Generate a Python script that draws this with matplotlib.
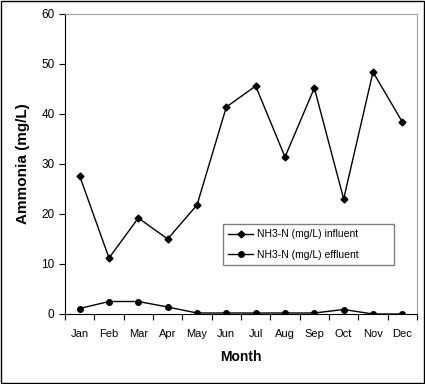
import numpy as np
import matplotlib.pyplot as plt
from matplotlib.patches import Rectangle

months = ['Jan', 'Feb', 'Mar', 'Apr', 'May', 'Jun', 'Jul', 'Aug', 'Sep', 'Oct', 'Nov', 'Dec']
influent = [27.6, 11.2, 19.2, 15.0, 21.8, 41.4, 45.6, 31.4, 45.2, 23.0, 48.4, 38.4]
effluent = [1.1, 2.5, 2.5, 1.4, 0.2, 0.2, 0.2, 0.2, 0.2, 0.9, 0.0, 0.0]

plt.rcParams['font.family'] = ['Liberation Sans', 'DejaVu Sans']

fig = plt.figure(figsize=(4.25, 3.84), dpi=100)
ax = fig.add_axes([65 / 425, 1 - 314 / 384, (417 - 65) / 425, (314 - 14) / 384])

x = np.arange(len(months))
ax.plot(x, influent, color='black', lw=1, marker='D', ms=3.5, label='NH3-N (mg/L) influent')
ax.plot(x, effluent, color='black', lw=1, marker='o', ms=4, label='NH3-N (mg/L) effluent')

ax.set_xlim(-0.5, 11.5)
ax.set_ylim(0, 60)
ax.set_yticks(range(0, 61, 10))
ax.set_xticks(x)
ax.set_xticklabels(months)
ax.set_xticks(np.arange(-0.5, 12, 1), minor=True)
ax.tick_params(axis='x', which='major', length=0, labelsize=8, pad=11)
ax.tick_params(axis='x', which='minor', length=4, direction='out', width=0.8)
ax.tick_params(axis='y', length=4, direction='out', width=0.8, labelsize=8.5)

for s in ['top', 'right']:
    ax.spines[s].set_color('#a0a0a0')
for s in ['left', 'bottom']:
    ax.spines[s].set_color('black')

ax.set_xlabel('Month', fontsize=10, fontweight='bold', labelpad=8)
ax.set_ylabel('Ammonia (mg/L)', fontsize=11, fontweight='bold', labelpad=8)

lx0 = (223 - 65) / 352
ly1 = (314 - 224) / 300
lw_ = (394 - 223) / 352
lh_ = (269 - 224) / 300
leg = ax.legend(loc='upper left', bbox_to_anchor=(lx0, ly1 - lh_, lw_, lh_), mode='expand',
                fontsize=7.5, frameon=True, fancybox=False, handlelength=2.4,
                borderpad=0.5, labelspacing=1.0, handletextpad=0.4, borderaxespad=0)
leg.get_frame().set_edgecolor('#606060')
leg.get_frame().set_linewidth(1)

fig.patches.append(Rectangle((0.003, 0.003), 0.994, 0.994, transform=fig.transFigure,
                             fill=False, edgecolor='black', lw=1))

fig.savefig('out.png', dpi=100)
